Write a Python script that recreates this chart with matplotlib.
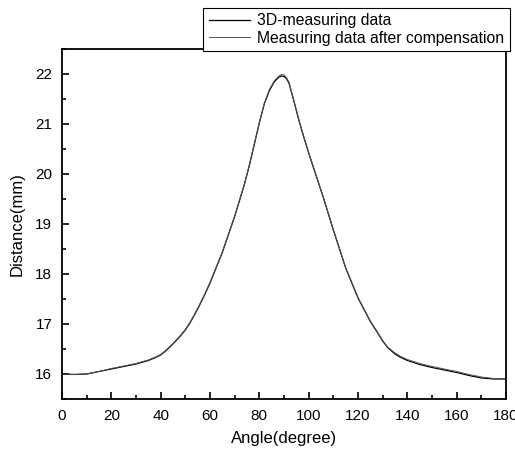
import matplotlib
matplotlib.use("Agg")
import matplotlib.pyplot as plt
from matplotlib.ticker import MultipleLocator

plt.rcParams['font.family'] = ['Liberation Sans', 'DejaVu Sans']

# values
angle = [0, 5, 10, 15, 20, 25, 30, 35, 38, 40, 42, 45, 48, 50, 52, 55, 58,
         60, 65, 70, 74, 76, 78, 80, 82, 84, 86, 88, 89, 90, 91, 92, 94, 96,
         98, 100, 102, 104, 106, 108, 110, 115, 120, 125, 128, 130, 132, 135,
         137, 140, 145, 150, 155, 160, 165, 170, 175, 180]
measured = [16.00, 15.99, 16.00, 16.05, 16.10, 16.15, 16.20, 16.27, 16.33,
            16.38, 16.46, 16.60, 16.76, 16.88, 17.03, 17.30, 17.60,
            17.82, 18.43, 19.15, 19.80, 20.18, 20.60, 21.02, 21.40, 21.66,
            21.84, 21.94, 21.96, 21.95, 21.91, 21.82, 21.46, 21.08,
            20.74, 20.42, 20.12, 19.82, 19.52, 19.20, 18.88, 18.12, 17.52,
            17.05, 16.82, 16.66, 16.53, 16.40, 16.34, 16.27, 16.19, 16.13,
            16.08, 16.03, 15.97, 15.92, 15.90, 15.90]
compensated = [16.00, 15.99, 16.00, 16.05, 16.11, 16.16, 16.21, 16.28, 16.34,
               16.39, 16.47, 16.61, 16.77, 16.89, 17.04, 17.31, 17.61,
               17.83, 18.44, 19.16, 19.81, 20.19, 20.61, 21.03, 21.41, 21.68,
               21.86, 21.96, 21.99, 21.98, 21.93, 21.84, 21.47, 21.09,
               20.75, 20.43, 20.13, 19.83, 19.53, 19.21, 18.89, 18.13, 17.53,
               17.06, 16.83, 16.67, 16.54, 16.42, 16.36, 16.29, 16.21, 16.15,
               16.10, 16.05, 15.99, 15.94, 15.91, 15.90]

fig = plt.figure(figsize=(5.15, 4.49), dpi=100)
ax = fig.add_axes([0.1204, 0.1114, 0.8621, 0.7795])

l1, = ax.plot(angle, measured, color='black', lw=0.9)
l2, = ax.plot(angle, compensated, color='#555555', lw=0.7)

ax.set_xlim(0, 180)
ax.set_ylim(15.5, 22.5)
ax.xaxis.set_major_locator(MultipleLocator(20))
ax.xaxis.set_minor_locator(MultipleLocator(10))
ax.yaxis.set_major_locator(MultipleLocator(1))
ax.yaxis.set_minor_locator(MultipleLocator(0.5))
ax.tick_params(which='both', direction='in', top=False, right=False,
               labelsize=11, width=1.2)
ax.tick_params(which='major', length=5, pad=7)
ax.tick_params(which='minor', length=3)
for s in ax.spines.values():
    s.set_linewidth(1.3)

ax.set_xlabel('Angle(degree)', fontsize=12, labelpad=6)
ax.set_ylabel('Distance(mm)', fontsize=12, labelpad=8)

leg = fig.legend([l1, l2], ['3D-measuring data', 'Measuring data after compensation'],
                 loc='upper right', bbox_to_anchor=(510 / 515, 1 - 8 / 449),
                 fontsize=11.3, fancybox=False, framealpha=1, edgecolor='black',
                 handlelength=2.6, handletextpad=0.5, borderpad=0.35,
                 labelspacing=0.15, borderaxespad=0)
leg.get_frame().set_linewidth(0.8)

fig.savefig('out.png', dpi=100)
